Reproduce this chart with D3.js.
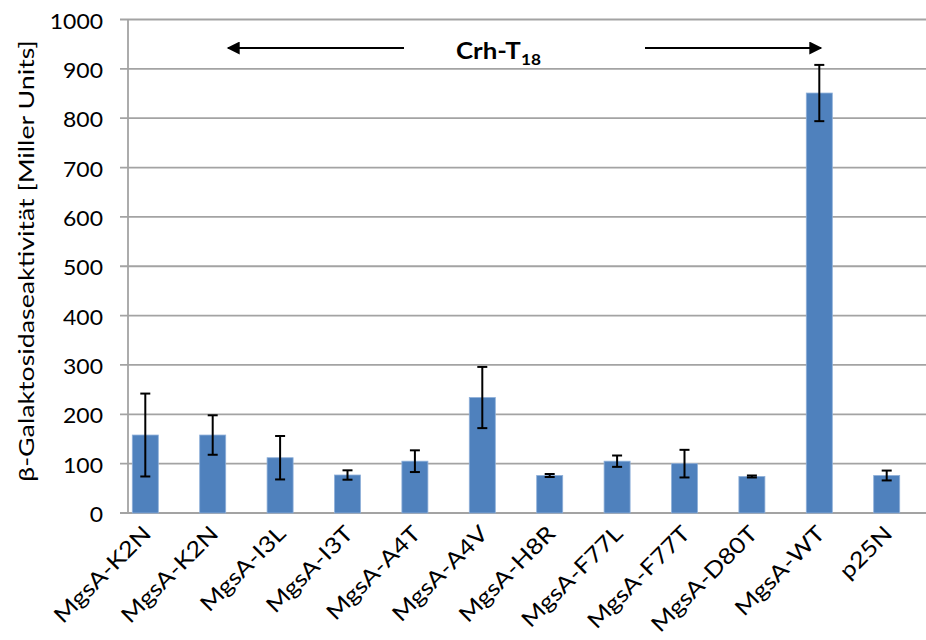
<!DOCTYPE html>
<html><head><meta charset="utf-8">
<script src="https://cdn.jsdelivr.net/npm/d3@7"></script>
<style>body{margin:0;background:#fff}svg{display:block}text{font-family:Lato,"Open Sans",sans-serif;fill:#000}</style>
</head><body>
<svg id="c" width="926" height="640"></svg>
<script>
const categories = ["MgsA-K2N","MgsA-K2N","MgsA-I3L","MgsA-I3T","MgsA-A4T","MgsA-A4V","MgsA-H8R","MgsA-F77L","MgsA-F77T","MgsA-D80T","MgsA-WT","p25N"];
const values = [158,158,112,77,105,234,76,105,100,74,851,76];
const errors = [84,40,44,9.5,22,62,3,11.5,28,2,57,10];
const yTicks = [0,100,200,300,400,500,600,700,800,900,1000];
const yTitle = "β-Galaktosidaseaktivität [Miller Units]";
const annotation = {main:"Crh-T", sub:"18"};

const svg = d3.select("#c");
const W = 926;
const y = d3.scaleLinear().domain([0,1000]).range([513,19.5]);
const x = d3.scaleBand().domain(d3.range(categories.length)).range([111.6,920.4]).paddingInner(0.614).paddingOuter(0.307);
const axisX = 128;
const grid = "#a3a3a3";

svg.append("g").selectAll("line").data(yTicks).join("line")
  .attr("x1",120).attr("x2",W).attr("y1",d=>y(d)).attr("y2",d=>y(d))
  .attr("stroke",grid).attr("stroke-width",1.8);
svg.append("line").attr("x1",axisX).attr("x2",axisX).attr("y1",y(1000)).attr("y2",y(0)).attr("stroke",grid).attr("stroke-width",1.8);

svg.append("g").selectAll("text").data(yTicks).join("text")
  .attr("text-anchor","end").attr("font-size",20.5)
  .attr("transform",d=>`translate(103,${y(d)+9}) scale(1.12,1)`)
  .text(d=>d);

svg.append("text").attr("text-anchor","middle").attr("font-size",21.5)
  .attr("transform","translate(34,261) rotate(-90) scale(1.245,1)")
  .text(yTitle);

svg.append("g").selectAll("rect").data(values).join("rect")
  .attr("x",(d,i)=>x(i)).attr("width",x.bandwidth())
  .attr("y",d=>y(d)).attr("height",d=>y(0)-y(d))
  .attr("fill","#4f81bd").attr("stroke","#8fb0d9").attr("stroke-width",0.8);

const eg = svg.append("g").attr("stroke","#000").attr("stroke-width",2);
values.forEach((v,i)=>{
  const cx = x(i)+x.bandwidth()/2, e = errors[i];
  eg.append("line").attr("x1",cx).attr("x2",cx).attr("y1",y(v+e)).attr("y2",y(v-e));
  eg.append("line").attr("x1",cx-5).attr("x2",cx+5).attr("y1",y(v+e)).attr("y2",y(v+e));
  eg.append("line").attr("x1",cx-5).attr("x2",cx+5).attr("y1",y(v-e)).attr("y2",y(v-e));
});

svg.append("g").selectAll("text").data(categories).join("text")
  .attr("text-anchor","end").attr("font-size",22)
  .attr("transform",(d,i)=>`translate(${x(i)+x.bandwidth()/2+7},535) rotate(-45) scale(1.17,1)`)
  .text(d=>d);

const defs = svg.append("defs");
defs.append("marker").attr("id","ah").attr("viewBox","0 0 10 10").attr("refX",9).attr("refY",5)
  .attr("markerWidth",15).attr("markerHeight",13).attr("markerUnits","userSpaceOnUse")
  .attr("orient","auto").append("path").attr("d","M0,0L10,5L0,10Z").attr("fill","#000");
const ay = 48;
svg.append("line").attr("x1",404).attr("x2",228).attr("y1",ay).attr("y2",ay).attr("stroke","#000").attr("stroke-width",2).attr("marker-end","url(#ah)");
svg.append("line").attr("x1",645).attr("x2",821).attr("y1",ay).attr("y2",ay).attr("stroke","#000").attr("stroke-width",2).attr("marker-end","url(#ah)");

const at = svg.append("text").attr("font-weight","bold").attr("font-size",22.5)
  .attr("transform","translate(456,58.5) scale(1.15,1)");
at.append("tspan").text(annotation.main);
at.append("tspan").attr("font-size",15).attr("dy",6).text(annotation.sub);
</script>
</body></html>
